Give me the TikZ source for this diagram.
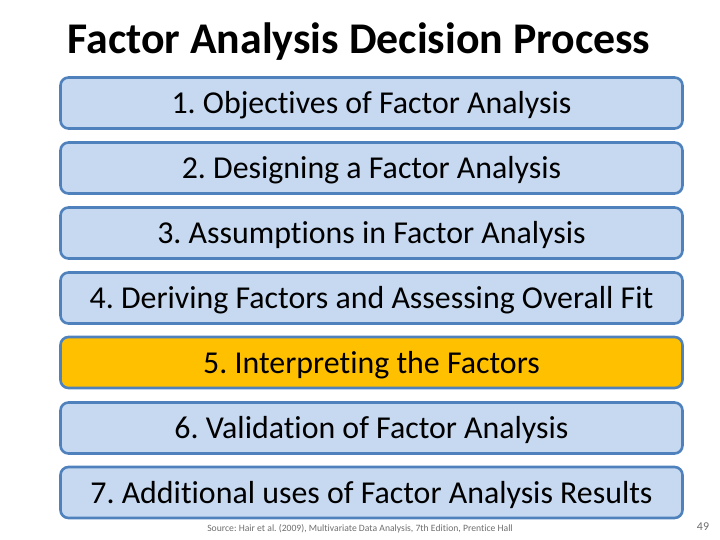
\documentclass[tikz,border=0pt]{standalone}
\usepackage{fontspec}
\setmainfont{Carlito}[Ligatures=NoCommon]
\frenchspacing
\definecolor{boxline}{RGB}{79,129,189}
\definecolor{boxfill}{RGB}{198,217,241}
\definecolor{hilite}{RGB}{255,192,0}
\definecolor{notegray}{RGB}{110,110,110}
\tikzset{
  stage/.style={draw=boxline, line width=2.6bp, fill=boxfill, rounded corners=8bp,
    minimum width=622bp, minimum height=51bp, text height=24bp, text depth=3bp,
    font=\fontsize{32}{36}\selectfont},
  current/.style={stage, fill=hilite}
}
\begin{document}
\begin{tikzpicture}[x=1bp, y=-1bp]
  \useasboundingbox (0,0) rectangle (720,540);
  \node[font=\bfseries\fontsize{44}{48}\selectfont] (title) at (359,42) {Factor Analysis Decision Process};
  \draw
    (371.5,103) node[stage] (1){1. Objectives of Factor Analysis}
    (371.5,168) node[stage] (2){2. Designing a Factor Analysis}
    (371.5,233) node[stage] (3){3. Assumptions in Factor Analysis}
    (371.5,298) node[stage] (4){4. Deriving Factors and Assessing Overall Fit}
    (371.5,362.5) node[current] (5){5. Interpreting the Factors}
    (371.5,428) node[stage] (6){6. Validation of Factor Analysis}
    (371.5,492.5) node[stage] (7){7. Additional uses of Factor Analysis Results};
  \node[text=notegray, font=\fontsize{9.7}{11}\selectfont] (source) at (360,529)
    {Source: Hair et al. (2009), Multivariate Data Analysis, 7th Edition, Prentice Hall};
  \node[text=notegray, font=\fontsize{12}{14}\selectfont] (page) at (703,527) {49};
\end{tikzpicture}
\end{document}
